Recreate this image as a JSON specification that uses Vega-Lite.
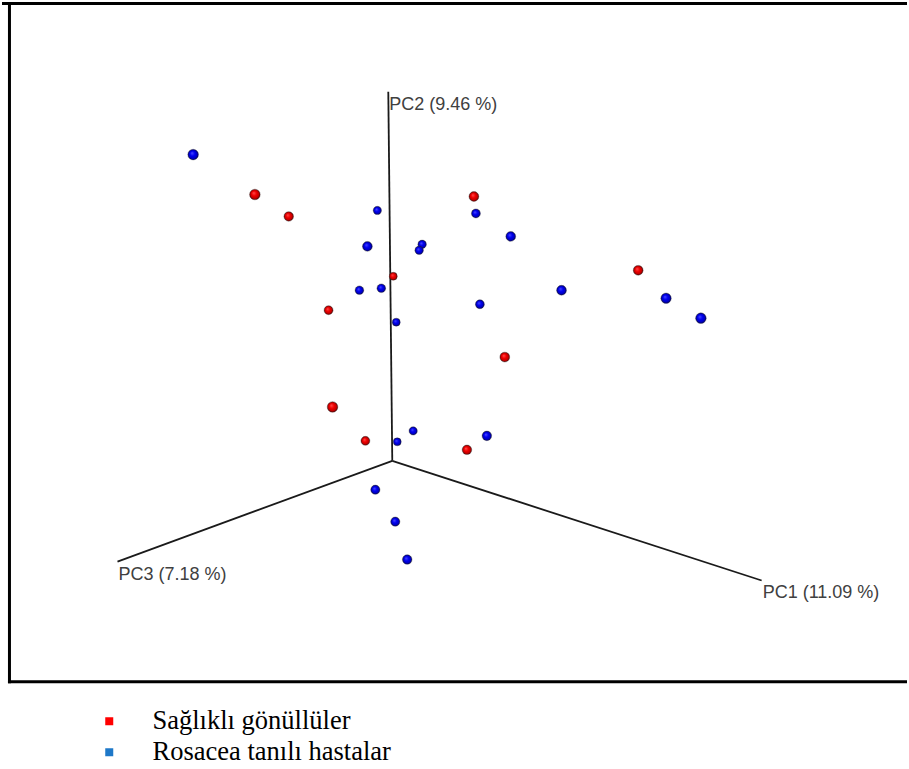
{
  "$schema": "https://vega.github.io/schema/vega-lite/v6.json",
  "width": 909,
  "height": 769,
  "autosize": {"type": "fit", "contains": "padding"},
  "padding": 0,
  "background": "white",
  "config": {"view": {"stroke": null}},
  "datasets": {
    "points": [
      {"id": 1, "group": "Rosacea tanılı hastalar", "px": -200, "py": 307, "z": 12},
      {"id": 2, "group": "Sağlıklı gönüllüler", "px": -138, "py": 267, "z": 12},
      {"id": 3, "group": "Sağlıklı gönüllüler", "px": -104, "py": 245, "z": 10.7},
      {"id": 4, "group": "Rosacea tanılı hastalar", "px": -15, "py": 251, "z": 9.3},
      {"id": 5, "group": "Rosacea tanılı hastalar", "px": -25, "py": 215, "z": 11},
      {"id": 6, "group": "Rosacea tanılı hastalar", "px": 30, "py": 217, "z": 9.5},
      {"id": 7, "group": "Rosacea tanılı hastalar", "px": 27, "py": 211, "z": 9.5},
      {"id": 8, "group": "Sağlıklı gönüllüler", "px": 1, "py": 185, "z": 9},
      {"id": 9, "group": "Rosacea tanılı hastalar", "px": -33, "py": 171, "z": 9.7},
      {"id": 10, "group": "Rosacea tanılı hastalar", "px": -11, "py": 173, "z": 9.7},
      {"id": 11, "group": "Sağlıklı gönüllüler", "px": -64, "py": 151, "z": 10},
      {"id": 12, "group": "Rosacea tanılı hastalar", "px": 4, "py": 139, "z": 9},
      {"id": 13, "group": "Sağlıklı gönüllüler", "px": 82, "py": 265, "z": 11},
      {"id": 14, "group": "Rosacea tanılı hastalar", "px": 84, "py": 248, "z": 10},
      {"id": 15, "group": "Rosacea tanılı hastalar", "px": 119, "py": 225, "z": 11},
      {"id": 16, "group": "Rosacea tanılı hastalar", "px": 88, "py": 157, "z": 10},
      {"id": 17, "group": "Sağlıklı gönüllüler", "px": 247, "py": 191, "z": 11},
      {"id": 18, "group": "Rosacea tanılı hastalar", "px": 170, "py": 171, "z": 11},
      {"id": 19, "group": "Rosacea tanılı hastalar", "px": 275, "py": 163, "z": 11.7},
      {"id": 20, "group": "Rosacea tanılı hastalar", "px": 310, "py": 143, "z": 12},
      {"id": 21, "group": "Sağlıklı gönüllüler", "px": 113, "py": 104, "z": 11},
      {"id": 22, "group": "Sağlıklı gönüllüler", "px": -60, "py": 54, "z": 12},
      {"id": 23, "group": "Sağlıklı gönüllüler", "px": -27, "py": 20, "z": 10},
      {"id": 24, "group": "Rosacea tanılı hastalar", "px": 5, "py": 19, "z": 9},
      {"id": 25, "group": "Rosacea tanılı hastalar", "px": 21, "py": 30, "z": 9.3},
      {"id": 26, "group": "Rosacea tanılı hastalar", "px": 95, "py": 25, "z": 10.7},
      {"id": 27, "group": "Sağlıklı gönüllüler", "px": 75, "py": 11, "z": 10.7},
      {"id": 28, "group": "Rosacea tanılı hastalar", "px": -17, "py": -29, "z": 10.3},
      {"id": 29, "group": "Rosacea tanılı hastalar", "px": 3, "py": -61, "z": 10.3},
      {"id": 30, "group": "Rosacea tanılı hastalar", "px": 15, "py": -99, "z": 10.7}
    ],
    "axes": [
      {"axis": "PC1", "label": "PC1 (11.09 %)", "x0": 0, "y0": 0, "x1": 371, "y1": -120},
      {"axis": "PC2", "label": "PC2 (9.46 %)", "x0": 0, "y0": 0, "x1": -4, "y1": 370},
      {"axis": "PC3", "label": "PC3 (7.18 %)", "x0": 0, "y0": 0, "x1": -276, "y1": -101}
    ],
    "frame": [
      {"side": "top", "x0": -392, "x1": 517, "y0": 458.5, "y1": 458.5},
      {"side": "left", "x0": -384.5, "x1": -384.5, "y0": 460, "y1": -223},
      {"side": "bottom", "x0": -386, "x1": 517, "y0": -221.5, "y1": -221.5}
    ]
  },
  "layer": [
    {
      "data": {"name": "frame"},
      "mark": {"type": "rule", "color": "black", "strokeWidth": 3, "strokeCap": "butt"},
      "encoding": {
        "x": {"field": "x0", "type": "quantitative", "scale": {"domain": [-392, 517], "nice": false, "zero": false}, "axis": null},
        "x2": {"field": "x1"},
        "y": {"field": "y0", "type": "quantitative", "scale": {"domain": [-309, 460], "nice": false, "zero": false}, "axis": null},
        "y2": {"field": "y1"}
      }
    },
    {
      "data": {"name": "axes"},
      "mark": {"type": "rule", "color": "#1a1a1a", "strokeWidth": 1.8},
      "encoding": {
        "x": {"field": "x0", "type": "quantitative", "scale": {"domain": [-392, 517], "nice": false, "zero": false}, "axis": null},
        "x2": {"field": "x1"},
        "y": {"field": "y0", "type": "quantitative", "scale": {"domain": [-309, 460], "nice": false, "zero": false}, "axis": null},
        "y2": {"field": "y1"}
      }
    },
    {
      "data": {"name": "axes"},
      "mark": {"type": "text", "align": "left", "baseline": "alphabetic", "dx": 1, "dy": 18, "font": "Liberation Sans", "fontSize": 18, "color": "#404040"},
      "encoding": {
        "x": {"field": "x1", "type": "quantitative", "scale": {"domain": [-392, 517], "nice": false, "zero": false}, "axis": null},
        "y": {"field": "y1", "type": "quantitative", "scale": {"domain": [-309, 460], "nice": false, "zero": false}, "axis": null},
        "text": {"field": "label"}
      }
    },
    {
      "data": {"name": "points"},
      "transform": [{"filter": "datum.group === 'Sağlıklı gönüllüler'"}],
      "mark": {
        "type": "point", "shape": "circle", "filled": true, "opacity": 1,
        "fill": {"gradient": "radial", "x1": 0.38, "y1": 0.35, "r1": 0, "x2": 0.5, "y2": 0.5, "r2": 0.5,
          "stops": [{"offset": 0, "color": "#ff5050"}, {"offset": 0.45, "color": "#f00000"}, {"offset": 0.8, "color": "#c00000"}, {"offset": 1, "color": "#500000"}]},
        "stroke": "#333333", "strokeOpacity": 0.35, "strokeWidth": 1
      },
      "encoding": {
        "x": {"field": "px", "type": "quantitative", "scale": {"domain": [-392, 517], "nice": false, "zero": false}, "axis": null},
        "y": {"field": "py", "type": "quantitative", "scale": {"domain": [-309, 460], "nice": false, "zero": false}, "axis": null},
        "size": {"field": "z", "type": "quantitative", "scale": {"domain": [9, 12], "range": [64, 113]}, "legend": null}
      }
    },
    {
      "data": {"name": "points"},
      "transform": [{"filter": "datum.group === 'Rosacea tanılı hastalar'"}],
      "mark": {
        "type": "point", "shape": "circle", "filled": true, "opacity": 1,
        "fill": {"gradient": "radial", "x1": 0.38, "y1": 0.35, "r1": 0, "x2": 0.5, "y2": 0.5, "r2": 0.5,
          "stops": [{"offset": 0, "color": "#5050ff"}, {"offset": 0.45, "color": "#0000f0"}, {"offset": 0.8, "color": "#0000c0"}, {"offset": 1, "color": "#000050"}]},
        "stroke": "#333333", "strokeOpacity": 0.35, "strokeWidth": 1
      },
      "encoding": {
        "x": {"field": "px", "type": "quantitative", "scale": {"domain": [-392, 517], "nice": false, "zero": false}, "axis": null},
        "y": {"field": "py", "type": "quantitative", "scale": {"domain": [-309, 460], "nice": false, "zero": false}, "axis": null},
        "size": {"field": "z", "type": "quantitative", "scale": {"domain": [9, 12], "range": [64, 113]}, "legend": null}
      }
    },
    {
      "data": {"name": "points"},
      "transform": [{"filter": "false"}],
      "mark": {"type": "square", "filled": true},
      "encoding": {
        "x": {"field": "px", "type": "quantitative", "scale": {"domain": [-392, 517], "nice": false, "zero": false}, "axis": null},
        "y": {"field": "py", "type": "quantitative", "scale": {"domain": [-309, 460], "nice": false, "zero": false}, "axis": null},
        "color": {
          "field": "group", "type": "nominal",
          "scale": {"domain": ["Sağlıklı gönüllüler", "Rosacea tanılı hastalar"], "range": ["#ff0000", "#1e78c8"]},
          "legend": {
            "orient": "none", "legendX": 94, "legendY": 706, "direction": "vertical", "title": null,
            "symbolType": "square", "symbolSize": 64, "symbolStrokeWidth": 0, "symbolOpacity": 1,
            "labelFont": "Liberation Serif", "labelFontSize": 26.5, "labelColor": "black", "labelOffset": 30,
            "labelLimit": 0, "rowPadding": 4, "padding": 0, "offset": 0
          }
        }
      }
    }
  ]
}
